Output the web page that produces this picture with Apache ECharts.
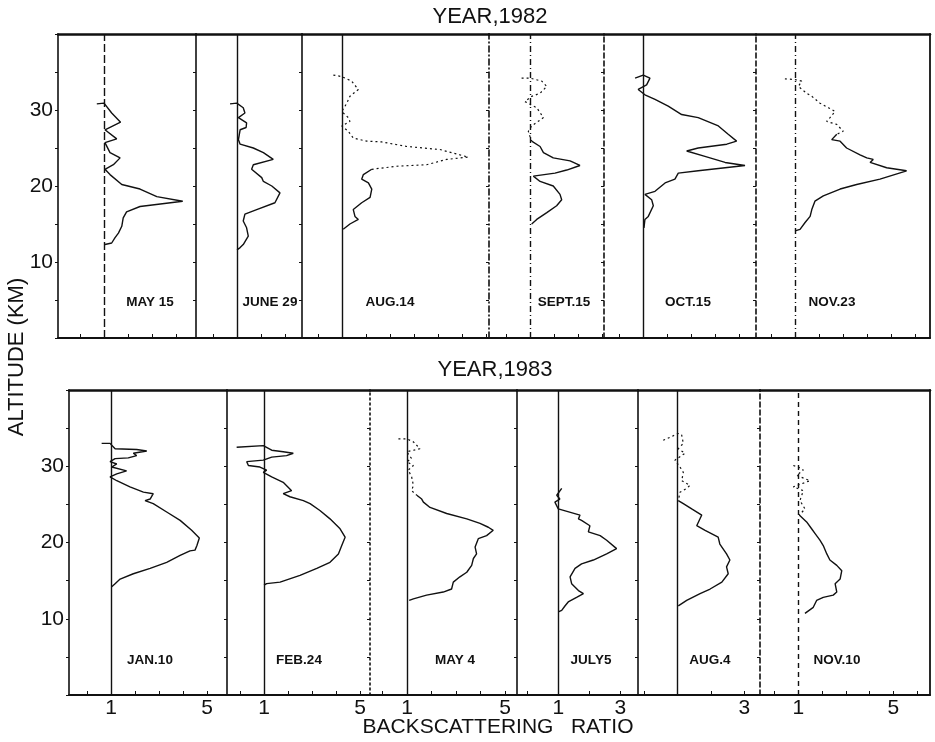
<!DOCTYPE html>
<html>
<head>
<meta charset="utf-8">
<script src="https://cdn.jsdelivr.net/npm/echarts@6/dist/echarts.min.js"></script>
<style>html,body{margin:0;padding:0;background:#fff}#c{width:935px;height:742px}</style>
</head>
<body>
<div id="c"></div>
<script>
// ---------- DATA ----------
const yearTitles = ['YEAR,1982', 'YEAR,1983'];
const dates1982 = ['MAY 15', 'JUNE 29', 'AUG.14', 'SEPT.15', 'OCT.15', 'NOV.23'];
const dates1983 = ['JAN.10', 'FEB.24', 'MAY 4', 'JULY5', 'AUG.4', 'NOV.10'];
const altTickLabels = [10, 20, 30];
const ratioLabels1982 = [[], [], [], [], [], []];
const ratioLabels1983 = [[1, 5], [1, 5], [1, 5], [1, 3], [3], [1, 5]];
const xTitle = 'BACKSCATTERING   RATIO';
const yTitle = 'ALTITUDE (KM)';

// profiles: [backscattering ratio, altitude km], top to bottom
const may15 = [[0.7,30.8],[1.0,30.9],[1.32,29.6],[1.69,28.4],[1.04,27.4],[1.53,26.2],[1.04,25.7],[1.25,24.4],[1.67,23.7],[1.39,22.8],[1.04,22.2],[1.25,21.5],[1.74,20.2],[2.5,19.6],[3.2,18.6],[4.28,18.0],[2.5,17.3],[1.94,16.6],[1.8,15.8],[1.74,14.7],[1.6,13.8],[1.46,13.2],[1.32,12.5],[1.04,12.3]];
const june29 = [[0.71,30.8],[0.99,30.9],[1.26,30.3],[1.33,29.6],[1.06,29.0],[1.4,28.3],[1.38,27.7],[1.13,27.4],[1.06,26.1],[1.13,25.5],[1.68,25.0],[2.1,24.4],[2.51,23.5],[1.68,22.8],[1.61,22.2],[2.03,21.1],[2.1,20.6],[2.45,20.0],[2.79,19.1],[2.58,17.8],[1.82,16.9],[1.33,16.3],[1.26,15.4],[1.4,14.5],[1.47,13.4],[1.26,12.3],[1.13,11.9],[1.0,11.6]];
const aug14 = [[0.64,34.6],[0.99,34.4],[1.4,33.8],[1.68,32.7],[1.33,31.8],[1.2,30.9],[0.99,29.8],[1.26,29.0],[1.33,28.5],[0.99,27.9],[1.26,27.2],[1.47,26.3],[2.03,25.9],[2.65,25.8],[3.7,25.2],[5.08,24.8],[6.26,23.8],[5.36,23.5],[4.53,22.8],[3.28,22.6],[2.24,22.2],[1.89,21.5],[1.82,20.9],[2.1,20.4],[2.24,19.6],[2.17,18.5],[1.82,17.8],[1.47,16.9],[1.54,16.0],[1.68,15.6],[1.33,15.0],[1.05,14.3]];
const sept15 = [[0.65,34.2],[1.0,34.2],[1.49,33.8],[1.7,33.1],[1.42,32.2],[1.07,31.8],[0.79,31.1],[1.28,30.3],[1.56,29.0],[1.07,27.9],[0.93,27.2],[1.0,26.5],[1.07,25.9],[1.42,25.2],[1.56,24.4],[1.97,23.7],[2.67,23.3],[3.08,22.7],[2.53,22.1],[2.04,21.7],[1.14,21.3],[1.42,20.6],[1.97,20.0],[2.25,18.9],[2.32,18.2],[2.11,17.4],[1.7,16.5],[1.28,15.6],[1.07,15.0]];
const oct15 = [[0.67,34.2],[1.01,34.6],[1.29,34.2],[1.15,33.3],[0.8,32.7],[1.08,32.0],[1.5,31.4],[2.05,30.5],[2.61,29.4],[3.3,29.0],[4.14,27.9],[4.55,26.8],[4.9,25.9],[4.49,25.5],[3.3,25.0],[2.82,24.6],[3.58,23.9],[4.42,23.1],[5.25,22.7],[4.42,22.4],[3.3,22.0],[2.47,21.7],[2.33,20.9],[1.92,20.4],[1.5,19.3],[1.08,18.9],[1.36,18.2],[1.43,17.4],[1.22,16.0],[1.08,15.6],[1.04,14.5]];
const nov23 = [[0.58,34.1],[1.0,34.0],[1.28,33.8],[1.14,33.1],[1.49,32.2],[1.7,31.8],[2.04,30.9],[2.39,30.3],[2.67,29.8],[2.46,29.0],[2.32,28.5],[2.74,28.1],[3.01,27.2],[2.74,26.8],[2.53,26.1],[2.88,25.9],[3.15,25.0],[3.71,24.1],[3.99,23.7],[4.26,23.5],[4.13,23.1],[4.82,22.4],[5.65,22.0],[4.54,20.9],[3.57,20.2],[2.88,19.6],[2.18,18.7],[1.83,18.0],[1.7,16.9],[1.63,16.0],[1.42,15.2],[1.21,14.3],[1.0,14.1]];
const jan10 = [[0.61,33.0],[0.96,33.0],[1.17,32.3],[2.07,32.2],[2.49,32.0],[1.93,31.7],[2.07,31.4],[1.72,31.1],[1.17,31.0],[0.96,30.6],[1.24,30.3],[1.03,29.9],[1.65,29.4],[1.24,29.0],[0.96,28.6],[1.24,28.1],[1.79,27.3],[2.35,26.6],[2.76,26.4],[2.63,25.7],[2.42,25.5],[2.76,25.1],[3.32,24.0],[3.88,22.9],[4.36,21.6],[4.68,20.6],[4.58,19.6],[4.5,19.0],[4.29,18.9],[3.88,18.3],[3.32,17.4],[2.63,16.6],[1.93,15.9],[1.38,15.2],[1.17,14.6],[1.03,14.2]];
const feb24 = [[-0.14,32.5],[0.97,32.7],[1.32,32.1],[1.8,31.9],[2.22,31.7],[1.94,31.4],[1.32,31.2],[0.97,30.8],[0.28,30.6],[0.35,30.1],[0.83,29.9],[1.11,29.5],[0.97,29.2],[1.32,28.6],[1.8,27.9],[2.15,26.8],[1.8,26.4],[2.08,26.0],[2.64,25.5],[2.92,25.1],[3.33,24.2],[3.75,23.1],[4.17,21.8],[4.38,20.7],[4.24,19.6],[4.1,18.5],[3.75,17.4],[3.2,16.6],[2.5,15.7],[1.67,14.8],[1.11,14.6],[1.0,14.4]];
const may4 = [[0.65,33.6],[0.99,33.6],[1.26,33.2],[1.53,32.3],[1.26,32.1],[0.99,31.9],[1.19,31.0],[0.99,30.6],[1.26,30.1],[1.05,29.5],[1.19,28.6],[1.26,27.5],[1.19,26.8],[1.4,26.2],[1.6,25.7],[1.67,25.3],[1.94,24.6],[2.62,23.8],[3.44,23.1],[3.98,22.5],[4.32,22.0],[4.52,21.6],[4.25,20.9],[3.91,20.5],[3.78,19.4],[3.84,18.5],[3.71,17.9],[3.64,17.0],[3.44,16.1],[3.16,15.5],[2.89,14.8],[2.82,13.9],[2.48,13.5],[1.8,13.1],[1.26,12.6],[1.09,12.4]];
const july5 = [[1.11,27.1],[0.95,26.2],[1.05,25.7],[0.89,25.3],[1.0,24.4],[1.7,23.6],[1.65,23.1],[1.75,22.9],[2.02,22.2],[1.97,21.4],[2.35,20.9],[2.56,20.3],[2.88,19.2],[2.56,18.5],[2.13,17.7],[1.75,17.2],[1.54,16.6],[1.38,15.5],[1.43,14.6],[1.65,13.7],[1.81,13.3],[1.59,12.8],[1.32,12.2],[1.22,11.7],[1.11,11.1],[1.0,10.9]];
const aug4 = [[0.58,33.4],[1.03,34.3],[1.13,34.1],[1.18,33.0],[1.03,32.3],[1.23,31.7],[0.93,30.8],[1.08,29.9],[1.18,29.2],[1.13,28.1],[1.38,27.5],[1.28,27.1],[1.08,26.6],[1.03,25.5],[1.18,25.1],[1.43,24.4],[1.73,23.6],[1.58,22.2],[1.83,21.6],[2.22,20.7],[2.27,19.8],[2.47,18.5],[2.57,17.7],[2.47,16.8],[2.52,15.9],[2.33,14.8],[1.98,13.9],[1.68,13.3],[1.28,12.4],[1.03,11.7]];
const nov10 = [[0.79,30.1],[1.0,29.9],[1.21,29.5],[0.93,28.8],[1.49,28.1],[0.79,27.3],[1.21,26.8],[1.07,25.5],[1.28,24.4],[1.04,23.6],[1.35,22.7],[1.56,21.8],[1.7,21.2],[1.91,20.3],[2.05,19.6],[2.2,18.5],[2.33,17.7],[2.62,17.0],[2.83,16.3],[2.76,15.2],[2.55,14.6],[2.62,13.5],[2.47,13.1],[2.05,12.8],[1.77,12.4],[1.63,11.5],[1.28,10.7]];

const profiles1982 = [may15, june29, aug14, sept15, oct15, nov23];
const profiles1983 = [jan10, feb24, may4, july5, aug4, nov10];

// ---------- LAYOUT / STYLE ----------
const panels = [
  {
    title: yearTitles[0], titleX: 490, titleY: 17,
    top: 34, height: 304,
    edges: [58, 196, 302, 489, 604, 756, 930],
    xRange: [[-0.917, 4.833], [-0.708, 3.708], [-0.667, 7.125], [-0.708, 4.083], [-0.625, 5.708], [-0.625, 6.625]],
    sepType: ['solid', 'solid', 'solid', [6, 3, 1, 3], [5, 3], [5, 3]],
    baseType: [[8, 3], 'solid', 'solid', [6, 3, 1, 3], 'solid', [6, 3, 1, 3]],
    dotAbove: [null, null, 22.2, 26.0, null, 26.8],
    dates: dates1982, dateX: [150, 270, 390, 564, 688, 832], dateY: 302,
    profiles: profiles1982, ratioLabels: ratioLabels1982
  },
  {
    title: yearTitles[1], titleX: 495, titleY: 370,
    top: 390, height: 305,
    edges: [69, 227, 370, 517, 638, 760, 930],
    xRange: [[-0.75, 5.833], [-0.542, 5.417], [-0.51, 5.49], [-0.332, 3.571], [-0.173, 3.469], [-0.613, 6.545]],
    sepType: ['solid', 'solid', [2, 3], 'solid', 'solid', [5, 3]],
    baseType: ['solid', 'solid', 'solid', 'solid', 'solid', [5, 4]],
    dotAbove: [null, null, 26.2, null, 25.5, 23.6],
    dates: dates1983, dateX: [150, 299, 455, 591, 710, 837], dateY: 660,
    profiles: profiles1983, ratioLabels: ratioLabels1983
  }
];

const grid = [], xAxis = [], yAxis = [], series = [], graphic = [];
const FONT = '"Liberation Sans", "DejaVu Sans", Arial, sans-serif';

panels.forEach((p, pi) => {
  graphic.push({type: 'text', x: p.titleX, y: p.titleY,
    style: {text: p.title, font: '22px ' + FONT, fill: '#111', textAlign: 'center', textVerticalAlign: 'middle'}});
  for (let i = 0; i < 6; i++) {
    const L = p.edges[i], R = p.edges[i + 1];
    const gi = grid.length;
    grid.push({left: L, top: p.top, width: R - L, height: p.height, containLabel: false});
    const [mn, mx] = p.xRange[i];
    const ints = [];
    for (let v = Math.ceil(mn); v <= Math.floor(mx); v++) ints.push(v);
    const labs = p.ratioLabels[i];
    xAxis.push({
      type: 'value', gridIndex: gi, min: mn, max: mx, position: 'bottom',
      axisLine: {show: true, onZero: false, lineStyle: {color: '#111', width: 2}},
      axisTick: {show: true, inside: true, length: 4, customValues: ints, lineStyle: {color: '#111', width: 1}},
      axisLabel: {show: labs.length > 0, customValues: labs, fontSize: 21, color: '#111', margin: 3, fontFamily: FONT},
      splitLine: {show: false}
    });
    xAxis.push({
      type: 'value', gridIndex: gi, min: mn, max: mx, position: 'top',
      axisLine: {show: true, onZero: false, lineStyle: {color: '#111', width: 2.5}},
      axisTick: {show: false}, axisLabel: {show: false}, splitLine: {show: false}
    });
    const xiBottom = xAxis.length - 2;
    yAxis.push({
      type: 'value', gridIndex: gi, min: 0, max: 40, interval: 5, position: 'left',
      axisLine: {show: true, onZero: false, lineStyle: {color: '#111', width: 1.6, type: p.sepType[i]}},
      axisTick: {show: true, length: 3, inside: false, lineStyle: {color: '#111'}},
      axisLabel: {show: i === 0, fontSize: 21, color: '#111', margin: 5, fontFamily: FONT,
        formatter: v => altTickLabels.indexOf(v) >= 0 ? String(v) : ''},
      splitLine: {show: false}
    });
    const yi = yAxis.length - 1;
    if (i === 5) {
      yAxis.push({
        type: 'value', gridIndex: gi, min: 0, max: 40, position: 'right',
        axisLine: {show: true, onZero: false, lineStyle: {color: '#111', width: 1.8}},
        axisTick: {show: false}, axisLabel: {show: false}, splitLine: {show: false}
      });
    }
    const data = p.profiles[i];
    const cut = p.dotAbove[i];
    let upper = null, lower = data;
    if (cut != null) {
      let k = data.findIndex(d => d[1] <= cut);
      if (k < 0) k = data.length - 1;
      upper = data.slice(0, k + 1);
      lower = data.slice(k);
    }
    series.push({
      type: 'line', xAxisIndex: xiBottom, yAxisIndex: yi, data: lower,
      showSymbol: false, symbol: 'none', silent: true,
      lineStyle: {color: '#111', width: 1.4},
      markLine: {silent: true, symbol: 'none', label: {show: false},
        lineStyle: {color: '#111', width: 1.4, type: p.baseType[i]},
        data: [{xAxis: 1}]}
    });
    if (upper) {
      series.push({
        type: 'line', xAxisIndex: xiBottom, yAxisIndex: yi, data: upper,
        showSymbol: false, symbol: 'none', silent: true,
        lineStyle: {color: '#111', width: 1.2, type: [2, 3]}
      });
    }
    graphic.push({type: 'text', x: p.dateX[i], y: p.dateY,
      style: {text: p.dates[i], font: 'bold 13.5px ' + FONT, fill: '#111', textAlign: 'center', textVerticalAlign: 'middle'}});
  }
});

graphic.push({type: 'text', x: 17, y: 357, rotation: Math.PI / 2,
  style: {text: yTitle, font: '22px ' + FONT, fill: '#111', textAlign: 'center', textVerticalAlign: 'middle'}});
graphic.push({type: 'text', x: 498, y: 727,
  style: {text: xTitle, font: '21px ' + FONT, fill: '#111', textAlign: 'center', textVerticalAlign: 'middle'}});

const chart = echarts.init(document.getElementById('c'), null, {renderer: 'canvas'});
chart.setOption({
  animation: false,
  backgroundColor: '#fff',
  grid, xAxis, yAxis, series, graphic
});
</script>
</body>
</html>
